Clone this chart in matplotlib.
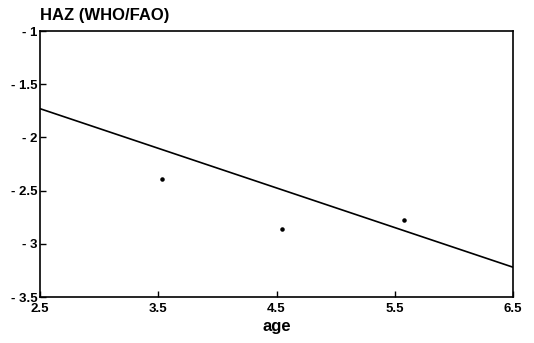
import matplotlib
matplotlib.use("Agg")
import matplotlib.pyplot as plt

# observed group means
age = [3.53, 4.55, 5.58]
haz = [-2.39, -2.86, -2.78]

# fitted line end points
line_age = [2.5, 6.5]
line_haz = [-1.73, -3.22]

xticks = [2.5, 3.5, 4.5, 5.5, 6.5]
yticks = [-1, -1.5, -2, -2.5, -3, -3.5]
ylabels = ["- 1", "- 1.5", "- 2", "- 2.5", "- 3", "- 3.5"]

plt.rcParams['font.family'] = ['Liberation Sans', 'DejaVu Sans']

fig = plt.figure(figsize=(5.34, 3.43), dpi=100)
ax = fig.add_axes([40 / 534, 1 - 297 / 343, 473 / 534, 266 / 343])

ax.plot(line_age, line_haz, color='black', lw=1.2)
ax.scatter(age, haz, s=5, color='black', zorder=3)

ax.set_xlim(2.5, 6.5)
ax.set_ylim(-3.5, -1)
ax.set_xticks(xticks)
ax.set_xticklabels([str(t) for t in xticks], fontweight='bold', fontsize=9.5)
ax.set_yticks(yticks)
ax.set_yticklabels(ylabels, fontweight='bold', fontsize=9.5)
ax.tick_params(direction='in', length=4, width=1, pad=2)
ax.tick_params(axis='x', pad=4)

for s in ax.spines.values():
    s.set_linewidth(1.2)

ax.set_xlabel('age', fontweight='bold', fontsize=12, labelpad=3)
ax.text(0, 1.03, 'HAZ (WHO/FAO)', transform=ax.transAxes,
        fontweight='bold', fontsize=12, ha='left', va='bottom')

fig.savefig('out.png', dpi=100)
